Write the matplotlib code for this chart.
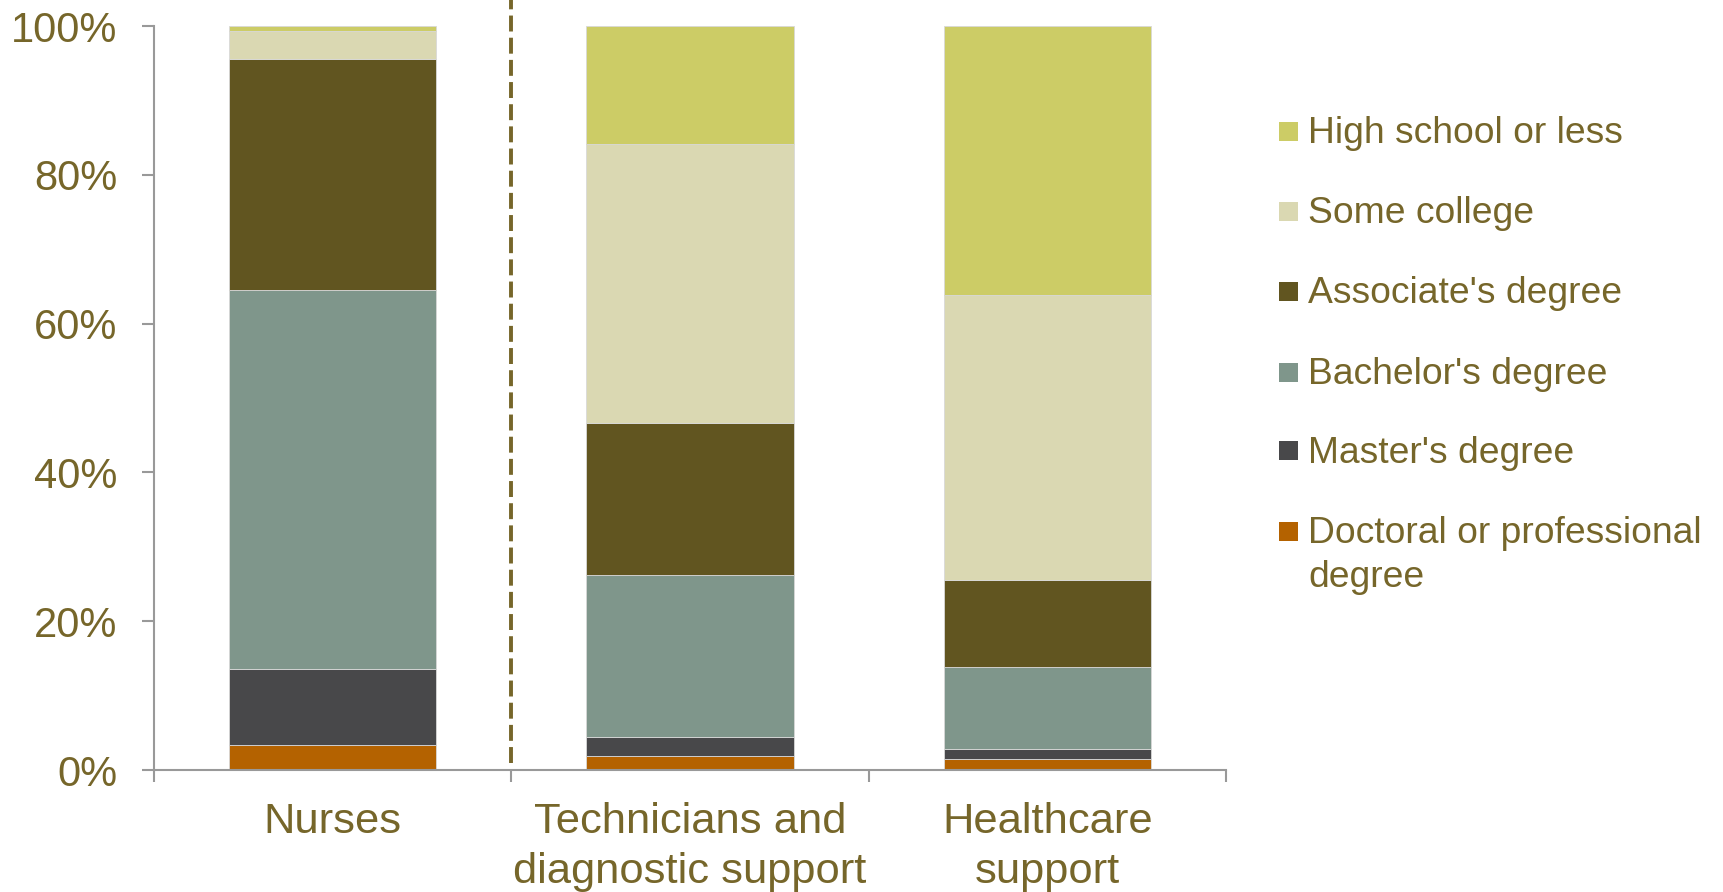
import matplotlib
matplotlib.use("Agg")
import matplotlib.pyplot as plt
from matplotlib.patches import Rectangle
import numpy as np

# ---- data (percent of workers, segment sizes, bottom to top) ----
categories = ["Nurses", "Technicians and\ndiagnostic support", "Healthcare\nsupport"]
series_names = ["Doctoral or professional\ndegree", "Master's degree", "Bachelor's degree",
                "Associate's degree", "Some college", "High school or less"]
doctoral = [3.4, 1.9, 1.5]
masters = [10.2, 2.6, 1.3]
bachelors = [50.9, 21.7, 11.1]
associates = [31.1, 20.5, 11.7]
some_college = [3.7, 37.5, 38.3]
high_school = [0.7, 15.8, 36.1]
series_values = [doctoral, masters, bachelors, associates, some_college, high_school]
colors = ["#B46200", "#48484A", "#7F968B", "#615520", "#DAD8B2", "#CCCC66"]
ytick_vals = [0, 20, 40, 60, 80, 100]
ytick_labels = ["0%", "20%", "40%", "60%", "80%", "100%"]

TEXT = "#76662A"
AXC = "#999999"
plt.rcParams['font.family'] = ['Liberation Sans', 'DejaVu Sans']

W, H = 1724, 892
fig = plt.figure(figsize=(W / 100, H / 100), dpi=100)
ax = fig.add_axes([154 / W, 1 - 770 / H, (1226 - 154) / W, (770 - 26) / H])

x = np.arange(len(categories))
bottom = np.zeros(len(categories))
for vals, col in zip(series_values, colors):
    ax.bar(x, vals, width=0.58, bottom=bottom, color=col, edgecolor="#d8d8d8",
           linewidth=0.6, zorder=2)
    bottom += np.array(vals)

ax.set_xlim(-0.5, len(categories) - 0.5)
ax.set_ylim(0, 100)

# dashed separator between nurses and the other groups
ax.plot([0.5, 0.5], [0.9, 103.5], color="#76662A", lw=2.8, clip_on=False,
        dashes=(4.1, 1.6), zorder=3)

for s in ["top", "right"]:
    ax.spines[s].set_visible(False)
for s in ["left", "bottom"]:
    ax.spines[s].set_color(AXC)
    ax.spines[s].set_linewidth(1.5)

ax.set_yticks(ytick_vals)
ax.set_yticklabels(ytick_labels)
ax.tick_params(axis="y", direction="out", length=8.6, width=1.5, color=AXC,
               labelsize=30, labelcolor=TEXT, pad=18)

ax.set_xticks(np.arange(-0.5, len(categories), 1.0))
ax.set_xticklabels([])
ax.tick_params(axis="x", which="major", direction="out", length=8.6, width=1.5, color=AXC)
ax.set_xticks(x, minor=True)
ax.set_xticklabels(categories, minor=True)
ax.tick_params(axis="x", which="minor", length=0, labelsize=31.3, labelcolor=TEXT, pad=23)
for t in ax.get_xticklabels(minor=True):
    t.set_linespacing(1.33)

# legend (top entry first)
baselines = [143, 223, 303, 384, 463, 543]
for i, (name, col) in enumerate(zip(series_names[::-1], colors[::-1])):
    by = baselines[i]
    fig.patches.append(Rectangle((1279 / W, 1 - (by - 2.5) / H), 19 / W, 19 / H,
                                 transform=fig.transFigure, facecolor=col,
                                 edgecolor="none"))
    fig.text(1308 / W, 1 - (by - 27) / H, name, fontsize=26.8, color=TEXT,
             ha="left", va="top", linespacing=1.33)

fig.savefig("out.png", dpi=100)
